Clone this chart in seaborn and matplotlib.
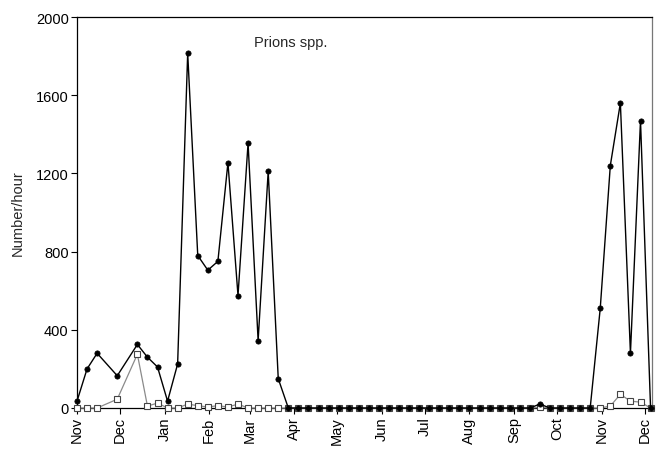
import matplotlib
matplotlib.use("Agg")
import matplotlib.pyplot as plt
import seaborn as sns
import pandas as pd

# Sampling days, counted from 1 November (weekly counts, with two missed weeks)
sample_day = [0, 7, 14, 28,
              42, 49, 56, 63, 70, 77, 84, 91, 98, 105, 112, 119, 126, 133, 140,
              147, 154, 161, 168, 175, 182, 189, 196, 203, 210,
              217, 224, 231, 238, 245, 252, 259, 266, 273, 280,
              287, 294, 301, 308, 315, 322, 329, 336, 343, 350,
              357, 364, 371, 378, 385, 392, 399]

# Number/hour, main series (filled circles)
count_main = [35, 200, 280, 165,
              325, 260, 210, 35, 225, 1815, 780, 705, 750, 1255, 575, 1355, 345, 1210, 150,
              0, 0, 0, 0, 0, 0, 0, 0, 0, 0,
              0, 0, 0, 0, 0, 0, 0, 0, 0, 0,
              0, 0, 0, 0, 0, 20, 0, 0, 0, 0,
              0, 510, 1240, 1560, 280, 1470, 0]

# Number/hour, second series (open squares)
count_second = [0, 0, 0, 45,
                275, 10, 25, 0, 0, 20, 12, 5, 12, 5, 20, 0, 0, 0, 0,
                0, 0, 0, 0, 0, 0, 0, 0, 0, 0,
                0, 0, 0, 0, 0, 0, 0, 0, 0, 0,
                0, 0, 0, 0, 0, 3, 0, 0, 0, 0,
                0, 0, 10, 70, 35, 30, 0]

month_day = [0, 30, 61, 92, 120, 151, 181, 212, 242, 273, 304, 334, 365, 395]
month_label = ["Nov", "Dec", "Jan", "Feb", "Mar", "Apr", "May", "Jun",
               "Jul", "Aug", "Sep", "Oct", "Nov", "Dec"]

y_ticks = [0, 400, 800, 1200, 1600, 2000]

df = pd.DataFrame({"day": sample_day, "main": count_main, "second": count_second})

sns.set_style("ticks")
plt.rcParams["font.family"] = ["Liberation Sans", "DejaVu Sans"]
plt.rcParams["font.size"] = 10.5

fig = plt.figure(figsize=(6.62, 4.52), dpi=100)
ax = fig.add_axes([77 / 662, 1 - 409 / 452, 575 / 662, 391 / 452])

sns.lineplot(data=df, x="day", y="second", ax=ax, color="#8a8a8a", linewidth=0.9,
             marker="s", markersize=4.4, markerfacecolor="white",
             markeredgecolor="#444444", markeredgewidth=0.8, estimator=None,
             sort=False, zorder=3, clip_on=False)
sns.lineplot(data=df, x="day", y="main", ax=ax, color="black", linewidth=1.0,
             marker="o", markersize=3.8, markerfacecolor="black",
             markeredgecolor="black", markeredgewidth=0.5, estimator=None,
             sort=False, zorder=4, clip_on=False)

ax.set_xlim(0, 400)
ax.set_ylim(0, 2000)
ax.set_xticks(month_day)
ax.set_xticklabels(month_label, rotation=90)
ax.set_yticks(y_ticks)
ax.set_yticklabels([str(v) for v in y_ticks])
ax.tick_params(axis="both", direction="out", length=4, width=0.8, colors="black",
               labelsize=10.5, pad=2)
ax.set_xlabel("")
ax.set_ylabel("Number/hour", fontsize=10.5, labelpad=8)

for side in ["left", "bottom", "top"]:
    ax.spines[side].set_visible(True)
    ax.spines[side].set_color("black")
    ax.spines[side].set_linewidth(0.9)
ax.spines["right"].set_visible(True)
ax.spines["right"].set_color("#777777")
ax.spines["right"].set_linewidth(0.9)

ax.text(0.308, 0.936, "Prions spp.", transform=ax.transAxes, fontsize=10.5,
        ha="left", va="center")

fig.savefig("out.png", dpi=100)
